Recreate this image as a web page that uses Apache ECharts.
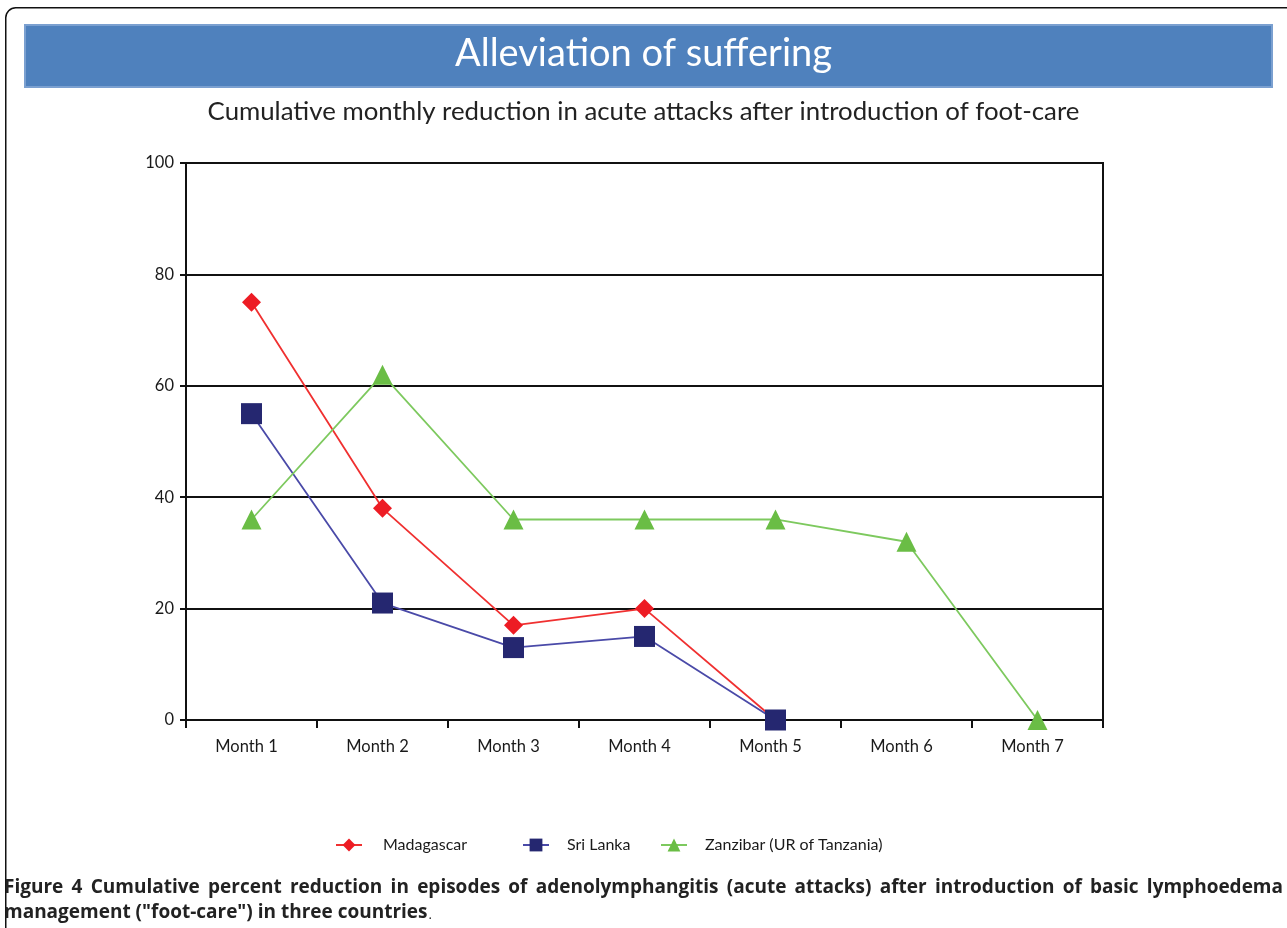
<!DOCTYPE html>
<html>
<head>
<meta charset="utf-8">
<script src="https://cdn.jsdelivr.net/npm/echarts@6/dist/echarts.min.js"></script>
<style>
html,body{margin:0;padding:0;background:#fff;}
#chart{width:1287px;height:928px;}
</style>
</head>
<body>
<div id="chart"></div>
<script>
const categories = ['Month 1','Month 2','Month 3','Month 4','Month 5','Month 6','Month 7'];
const madagascar = [75, 38, 17, 20, 0, null, null];
const sriLanka = [55, 21, 13, 15, 0, null, null];
const zanzibar = [36, 62, 36, 36, 36, 32, 0];
const yTicks = [0, 20, 40, 60, 80, 100];
const seriesNames = ['Madagascar', 'Sri Lanka', 'Zanzibar (UR of Tanzania)'];
const captionLine1 = 'Figure 4 Cumulative percent reduction in episodes of adenolymphangitis (acute attacks) after introduction of basic lymphoedema';
const captionLine2 = 'management ("foot-care") in three countries';

const chart = echarts.init(document.getElementById('chart'), null, {renderer: 'canvas'});
const FONT = 'Lato';
const legendPos = [335, 522, 660];
const legendPad = [16, 13, 13];

// justify caption line 1 across the page width
const capFont = 'bold 19px "Open Sans"';
const cv = document.createElement('canvas').getContext('2d');
cv.font = capFont;
const words = captionLine1.split(' ');
const wordW = words.map(w => cv.measureText(w).width);
const totalW = wordW.reduce((a, b) => a + b, 0);
const capLeft = 4, capRight = 1283;
const gap = (capRight - capLeft - totalW) / (words.length - 1);
const captionGraphics = [];
let cx = capLeft;
words.forEach((w, i) => {
  captionGraphics.push({type: 'text', x: cx, y: 888, silent: true,
    style: {text: w, fill: '#222', font: capFont, textVerticalAlign: 'middle'}});
  cx += wordW[i] + gap;
});
captionGraphics.push({type: 'text', x: capLeft, y: 913, silent: true,
  style: {text: captionLine2, fill: '#222', font: capFont, textVerticalAlign: 'middle'}});
const l2w = cv.measureText(captionLine2).width;
captionGraphics.push({type: 'text', x: capLeft + l2w + 1, y: 915, silent: true,
  style: {text: '.', fill: '#222', font: '13px "Open Sans"', textVerticalAlign: 'middle'}});

const option = {
  backgroundColor: '#ffffff',
  animation: false,
  grid: {left: 186, right: 184, top: 163, bottom: 208, show: true, borderColor: '#111', borderWidth: 2, backgroundColor: 'transparent'},
  xAxis: {
    type: 'category', data: categories, boundaryGap: true,
    axisLine: {lineStyle: {color: '#111', width: 2}},
    axisTick: {show: true, length: 8, lineStyle: {color: '#111', width: 2}},
    axisLabel: {fontFamily: FONT, fontSize: 16.5, color: '#1a1a1a', margin: 18, padding: [0, 10, 0, 0]},
    splitLine: {show: false}
  },
  yAxis: {
    type: 'value', min: yTicks[0], max: yTicks[yTicks.length-1], interval: 20,
    axisLine: {show: true, lineStyle: {color: '#111', width: 2}},
    axisTick: {show: true, length: 6, lineStyle: {color: '#111', width: 2}},
    axisLabel: {fontFamily: FONT, fontSize: 16.5, color: '#1a1a1a', margin: 12},
    splitLine: {show: true, lineStyle: {color: '#111', width: 2}}
  },
  legend: seriesNames.map((n, i) => ({
    data: [n], left: legendPos[i], top: 837, padding: 0, itemWidth: 26, itemHeight: 16,
    textStyle: {fontFamily: FONT, fontSize: 16, color: '#1a1a1a', padding: [0, 0, 0, legendPad[i]]}
  })),
  series: [
    {name: seriesNames[0], type: 'line', data: madagascar, symbol: 'diamond', symbolSize: 19,
     itemStyle: {color: '#ED1C24'}, lineStyle: {color: '#F03030', width: 1.8}, z: 2},
    {name: seriesNames[1], type: 'line', data: sriLanka, symbol: 'rect', symbolSize: 21,
     itemStyle: {color: '#252770'}, lineStyle: {color: '#4A4AA8', width: 1.8}, z: 3},
    {name: seriesNames[2], type: 'line', data: zanzibar, symbol: 'triangle', symbolSize: 20,
     itemStyle: {color: '#6ABD45'}, lineStyle: {color: '#7DC95E', width: 1.8}, z: 4}
  ],
  graphic: [
    {type: 'rect', left: 5, top: 7, silent: true, z: -10,
     shape: {x: 0, y: 0, width: 1290, height: 1000, r: 10},
     style: {fill: 'transparent', stroke: '#111', lineWidth: 1.5}},
    {type: 'rect', left: 24, top: 24, silent: true, z: -5,
     shape: {x: 0, y: 0, width: 1247, height: 62},
     style: {fill: '#4F81BD', stroke: '#7BA0D0', lineWidth: 2}},
    {type: 'text', left: 'center', top: 35, silent: true,
     style: {text: 'Alleviation of suffering', fill: '#fff', font: '38px Lato', textAlign: 'center'}},
    {type: 'text', left: 'center', top: 99, silent: true,
     style: {text: 'Cumulative monthly reduction in acute attacks after introduction of foot-care', fill: '#222', font: '25.8px Lato'}}
  ].concat(captionGraphics)
};
chart.setOption(option);
</script>
</body>
</html>
